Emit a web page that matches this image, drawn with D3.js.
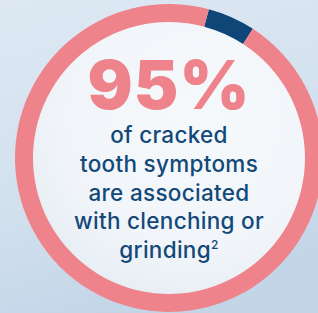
<!DOCTYPE html>
<html>
<head>
<meta charset="utf-8">
<script src="https://cdn.jsdelivr.net/npm/d3@7"></script>
<style>
  html, body { margin: 0; padding: 0; overflow: hidden; }
  svg { display: block; }
</style>
</head>
<body>
<div id="wrapper"></div>
<script>
/*global d3*/

// donut share
const segLabels = ["other", "clenching or grinding"]
const segValues = [5, 95]
const segColors = ["#0e4677", "#ef838b"]

const bigLabel = "95%"
const textLines = ["of cracked", "tooth symptoms", "are associated", "with clenching or", "grinding"]
const footnote = "2"

const width = 318
const height = 313
const cx = 169
const cy = 158
const outerR = 154
const ringW = 18

const svg = d3.select("#wrapper")
    .append("svg")
    .attr("width", width)
    .attr("height", height)

const defs = svg.append("defs")

const bg = defs.append("linearGradient")
    .attr("id", "bg")
    .attr("x1", 0).attr("y1", 0)
    .attr("x2", 0.3).attr("y2", 1)
bg.append("stop").attr("offset", "0%").attr("stop-color", "#dde8f3")
bg.append("stop").attr("offset", "60%").attr("stop-color", "#d3e1ee")
bg.append("stop").attr("offset", "100%").attr("stop-color", "#c3d6e8")

const inner = defs.append("radialGradient")
    .attr("id", "inner")
    .attr("cx", "60%").attr("cy", "35%").attr("r", "70%")
inner.append("stop").attr("offset", "0%").attr("stop-color", "#f6f9fc")
inner.append("stop").attr("offset", "70%").attr("stop-color", "#f1f5f9")
inner.append("stop").attr("offset", "100%").attr("stop-color", "#e6edf4")

svg.append("rect")
    .attr("width", width)
    .attr("height", height)
    .attr("fill", "url(#bg)")

const bounds = svg.append("g")
    .attr("transform", `translate(${cx},${cy})`)

bounds.append("circle")
    .attr("r", outerR - ringW + 1)
    .attr("fill", "url(#inner)")

const pie = d3.pie()
    .sort(null)
    .startAngle(15 * Math.PI / 180)
    .endAngle(375 * Math.PI / 180)

const arc = d3.arc()
    .innerRadius(outerR - ringW)
    .outerRadius(outerR)

bounds.selectAll("path.seg")
    .data(pie(segValues))
    .join("path")
    .attr("class", "seg")
    .attr("d", arc)
    .attr("fill", (d, i) => segColors[i])
    .append("title")
    .text((d, i) => segLabels[i])

// big number
bounds.append("text")
    .attr("x", 0)
    .attr("y", -49)
    .text(bigLabel)
    .style("text-anchor", "middle")
    .style("font-family", "Inter, 'Liberation Sans', sans-serif")
    .style("font-weight", 900)
    .style("font-size", "67px")
    .style("letter-spacing", "1px")
    .attr("fill", "#ef838b")

const lineY = d3.scaleLinear()
    .domain([0, textLines.length - 1])
    .range([-15, 100])

const lines = bounds.append("g")
    .style("font-family", "Inter, 'Liberation Sans', sans-serif")
    .style("font-weight", 500)
    .style("font-size", "22.5px")
    .style("letter-spacing", "0.3px")
    .attr("fill", "#134979")

lines.selectAll("text")
    .data(textLines)
    .join("text")
    .attr("x", 0)
    .attr("y", (d, i) => lineY(i))
    .style("text-anchor", "middle")
    .each(function (d, i) {
        const t = d3.select(this)
        t.append("tspan").text(d)
        if (i === textLines.length - 1) {
            t.append("tspan")
                .attr("dy", -9)
                .style("font-size", "12px")
                .text(footnote)
        }
    })
</script>
</body>
</html>
